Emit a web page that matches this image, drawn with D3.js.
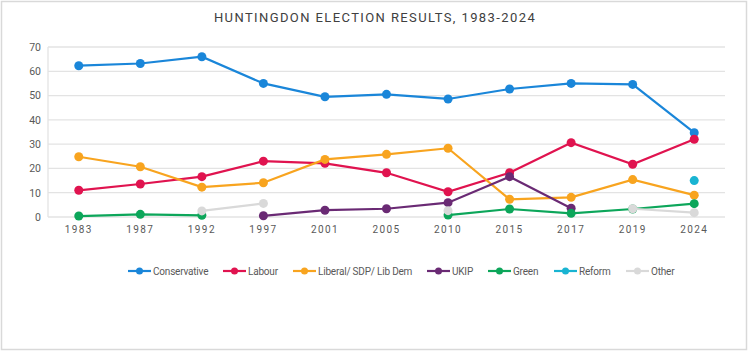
<!DOCTYPE html>
<html>
<head>
<meta charset="utf-8">
<script src="https://cdn.jsdelivr.net/npm/d3@7"></script>
<style>
  body { margin: 0; background: #fff; }
  text { font-family: "Roboto", "Liberation Sans", sans-serif; }
</style>
</head>
<body>
<div id="chart"></div>
<script>
// election years (categories)
var years = ["1983", "1987", "1992", "1997", "2001", "2005", "2010", "2015", "2017", "2019", "2024"];

// vote share (%) per party, null where the party did not stand
var conservative = [62.3, 63.2, 66.0, 55.0, 49.5, 50.5, 48.6, 52.7, 55.0, 54.6, 34.7];
var labour       = [11.0, 13.6, 16.6, 23.0, 22.1, 18.2, 10.4, 18.2, 30.6, 21.7, 32.0];
var libdem       = [24.8, 20.7, 12.3, 14.1, 23.7, 25.8, 28.3, 7.3, 8.1, 15.4, 9.0];
var ukip         = [null, null, null, 0.5, 2.8, 3.4, 5.9, 16.6, 3.6, null, null];
var green        = [0.4, 1.1, 0.7, null, null, null, 0.8, 3.3, 1.5, 3.3, 5.5];
var reform       = [null, null, null, null, null, null, null, null, null, null, 15.0];
var other        = [null, null, 2.5, 5.6, null, null, 2.6, null, null, 3.4, 1.8];

var yTicks = [0, 10, 20, 30, 40, 50, 60, 70];

var series = [
  { name: "Conservative", color: "#1a86d9", values: conservative },
  { name: "Labour", color: "#e0134f", values: labour },
  { name: "Liberal/ SDP/ Lib Dem", color: "#f8a41f", values: libdem },
  { name: "UKIP", color: "#6a2a74", values: ukip },
  { name: "Green", color: "#0ca65a", values: green },
  { name: "Reform", color: "#19b4d2", values: reform },
  { name: "Other", color: "#d9d9d9", values: other }
];

var chart_width = 750, chart_height = 352;
var plot = { left: 48, right: 725, top: 47, bottom: 217 };

var svg = d3.select('#chart')
  .append('svg')
  .attr('width', chart_width)
  .attr('height', chart_height);

// outer frame
svg.append('rect')
  .attr('x', 1.5).attr('y', 1.5)
  .attr('width', 745).attr('height', 348)
  .attr('fill', '#fff')
  .attr('stroke', '#d9d9d9')
  .attr('stroke-width', 1.5);

svg.append('text')
  .attr('x', chart_width / 2)
  .attr('y', 22)
  .attr('text-anchor', 'middle')
  .attr('font-size', 13)
  .attr('letter-spacing', 1.4)
  .attr('fill', '#404040')
  .text('HUNTINGDON ELECTION RESULTS, 1983-2024');

// scales
var x = d3.scaleBand().domain(years).range([plot.left, plot.right]);
var y = d3.scaleLinear().domain([0, 70]).range([plot.bottom, plot.top]);
var cx = function(yr) { return x(yr) + x.bandwidth() / 2; };

// gridlines
svg.append('g')
  .selectAll('line')
  .data(yTicks)
  .enter()
  .append('line')
  .attr('x1', plot.left).attr('x2', plot.right)
  .attr('y1', function(d) { return y(d); })
  .attr('y2', function(d) { return y(d); })
  .attr('stroke', '#e3e3e3')
  .attr('stroke-width', 1.3);

svg.append('line')
  .attr('x1', plot.left).attr('x2', plot.left)
  .attr('y1', plot.top).attr('y2', plot.bottom)
  .attr('stroke', '#e3e3e3')
  .attr('stroke-width', 1.3);

// y axis labels
var yAxis = svg.append('g')
  .attr('transform', 'translate(' + (plot.left - 7) + ',0)')
  .call(d3.axisLeft(y).tickValues(yTicks).tickSize(0).tickPadding(0));
yAxis.select('.domain').remove();
yAxis.selectAll('text')
  .attr('font-size', 10.5)
  .attr('fill', '#595959')
  .style('font-family', 'Roboto, sans-serif');

// x axis labels
var xAxis = svg.append('g')
  .attr('transform', 'translate(0,' + (plot.bottom + 9) + ')')
  .call(d3.axisBottom(x).tickSize(0).tickPadding(0));
xAxis.select('.domain').remove();
xAxis.selectAll('text')
  .attr('font-size', 10)
  .attr('letter-spacing', 1.4)
  .attr('fill', '#595959')
  .style('font-family', 'Roboto, sans-serif');

// lines and markers
var line = d3.line()
  .defined(function(d) { return d.v !== null; })
  .x(function(d) { return cx(d.year); })
  .y(function(d) { return y(d.v); });

series.forEach(function(s) {
  var pts = s.values.map(function(v, i) { return { year: years[i], v: v }; });
  svg.append('path')
    .datum(pts)
    .attr('d', line)
    .attr('fill', 'none')
    .attr('stroke', s.color)
    .attr('stroke-width', 2.2);
  svg.append('g')
    .selectAll('circle')
    .data(pts.filter(function(d) { return d.v !== null; }))
    .enter()
    .append('circle')
    .attr('cx', function(d) { return cx(d.year); })
    .attr('cy', function(d) { return y(d.v); })
    .attr('r', 4.5)
    .attr('fill', s.color);
});

// legend
var legendX = [128, 223, 293, 427, 488, 554, 626];
var legend = svg.append('g');
series.forEach(function(s, i) {
  var g = legend.append('g').attr('transform', 'translate(' + legendX[i] + ',271)');
  g.append('line')
    .attr('x1', 0).attr('x2', 23)
    .attr('stroke', s.color)
    .attr('stroke-width', 2.2);
  g.append('circle').attr('cx', 11.5).attr('r', 3.5).attr('fill', s.color);
  g.append('text')
    .attr('x', 25)
    .attr('dy', '0.35em')
    .attr('font-size', 10)
    .attr('letter-spacing', -0.2)
    .attr('fill', '#595959')
    .text(s.name);
});
</script>
</body>
</html>
